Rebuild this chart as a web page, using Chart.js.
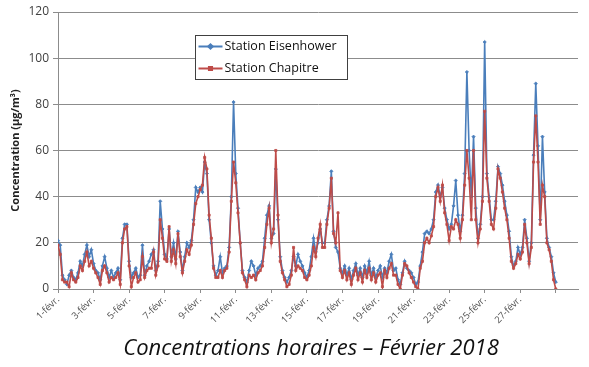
<!DOCTYPE html>
<html>
<head>
<meta charset="utf-8">
<script src="https://cdn.jsdelivr.net/npm/chart.js@4"></script>
<style>
  html, body { margin: 0; padding: 0; background: #fff; }
  #wrap { width: 589px; height: 367px; position: relative; }
</style>
</head>
<body>
<div id="wrap"><canvas id="c" width="589" height="367"></canvas></div>
<script>
// Hourly concentrations, February 2018, sampled every 3 hours (8 values per day)
const stepHours = 3;
const seriesNames = ['Station Eisenhower', 'Station Chapitre'];
const caption = 'Concentrations horaires – Février 2018';

const eisenhower = [
  21, 19, 6, 4, 2, 6, 8, 5,
  4, 7, 12, 10, 15, 19, 14, 17,
  11, 8, 7, 4, 10, 14, 9, 5,
  8, 5, 7, 9, 4, 22, 28, 28,
  12, 5, 7, 9, 5, 6, 19, 6,
  10, 12, 15, 17, 8, 12, 38, 26,
  15, 13, 26, 14, 20, 13, 25, 16,
  8, 14, 20, 18, 21, 30, 44, 42,
  44, 42, 55, 50, 30, 20, 10, 6,
  8, 14, 7, 9, 10, 18, 40, 81,
  50, 35, 20, 8, 5, 3, 8, 12,
  10, 6, 9, 10, 12, 22, 32, 36,
  22, 24, 52, 30, 14, 8, 5, 3,
  5, 8, 14, 10, 15, 12, 10, 7,
  5, 8, 14, 22, 16, 20, 26, 20,
  20, 30, 36, 51, 25, 18, 16, 9,
  7, 10, 6, 9, 4, 8, 11, 6,
  9, 5, 10, 7, 12, 6, 9, 5,
  8, 10, 5, 9, 7, 12, 15, 8,
  9, 4, 2, 7, 12, 9, 8, 7,
  5, 2, 3, 10, 16, 24, 25, 24,
  26, 30, 42, 45, 40, 44, 35, 30,
  26, 28, 36, 47, 32, 25, 32, 50,
  94, 60, 40, 66, 35, 22, 28, 40,
  107, 50, 40, 30, 30, 38, 53, 50,
  45, 38, 32, 25, 14, 10, 12, 18,
  15, 18, 30, 22, 12, 20, 58, 89,
  62, 30, 66, 42, 22, 18, 14, 7,
  3
];

const chapitre = [
  19, 15, 4, 3, 3, 1, 7, 4,
  3, 5, 10, 8, 12, 16, 10, 12,
  9, 7, 5, 2, 8, 10, 7, 3,
  5, 4, 5, 7, 2, 20, 26, 27,
  10, 1, 5, 7, 3, 4, 14, 5,
  8, 9, 9, 16, 6, 10, 30, 22,
  13, 12, 27, 12, 17, 11, 24, 14,
  7, 12, 17, 15, 19, 28, 37, 40,
  43, 45, 57, 52, 32, 22, 9, 5,
  5, 8, 5, 8, 9, 16, 38, 55,
  46, 33, 20, 7, 4, 1, 6, 5,
  6, 4, 7, 8, 10, 18, 28, 35,
  20, 26, 60, 32, 12, 7, 4, 1,
  2, 6, 18, 8, 10, 9, 8, 5,
  4, 6, 10, 18, 14, 22, 28, 18,
  18, 28, 35, 48, 24, 20, 33, 8,
  5, 8, 4, 7, 2, 6, 9, 4,
  7, 3, 8, 5, 9, 4, 7, 3,
  6, 7, 1, 8, 5, 9, 11, 6,
  6, 2, 0, 6, 11, 10, 7, 5,
  3, 1, 0, 9, 12, 20, 22, 20,
  23, 27, 40, 44, 38, 45, 33, 28,
  21, 27, 26, 30, 28, 22, 30, 45,
  60, 48, 30, 60, 30, 20, 26, 38,
  77, 48, 38, 28, 26, 35, 52, 48,
  42, 35, 30, 22, 12, 9, 11, 15,
  13, 16, 28, 20, 11, 18, 55, 75,
  55, 28, 45, 40, 20, 17, 12, 4,
  0
];

const tickLabels = ['1-févr.', '3-févr.', '5-févr.', '7-févr.', '9-févr.', '11-févr.', '13-févr.',
                    '15-févr.', '17-févr.', '19-févr.', '21-févr.', '23-févr.', '25-févr.', '27-févr.'];
const tickEveryHours = 48;
const yTicks = [0, 20, 40, 60, 80, 100, 120];

const tickHours = tickLabels.map((_, i) => i * tickEveryHours).concat([tickLabels.length * tickEveryHours]);
const toPoints = arr => arr.map((v, i) => ({ x: i * stepHours, y: v }));

const FONT = '"Open Sans", "DejaVu Sans", sans-serif';
const GRID = '#8c8c8c';

// Boxed legend drawn inside the plot area
const boxLegend = {
  id: 'boxLegend',
  afterDatasetsDraw(chart) {
    const ctx = chart.ctx;
    const x = 195.5, y = 35.5, w = 152, h = 44;
    ctx.save();
    ctx.fillStyle = '#fff';
    ctx.fillRect(x, y, w, h);
    ctx.strokeStyle = '#404040';
    ctx.lineWidth = 1;
    ctx.strokeRect(x, y, w, h);
    chart.data.datasets.forEach((ds, i) => {
      const cy = y + 11 + i * 22;
      ctx.strokeStyle = ds.borderColor;
      ctx.lineWidth = 2;
      ctx.beginPath();
      ctx.moveTo(x + 3, cy);
      ctx.lineTo(x + 27, cy);
      ctx.stroke();
      ctx.fillStyle = ds.backgroundColor;
      Chart.helpers.drawPoint(ctx, { pointStyle: ds.pointStyle, radius: 2.2, borderWidth: 1 }, x + 15, cy);
      ctx.fillStyle = '#111';
      ctx.font = '12.5px ' + FONT;
      ctx.textBaseline = 'middle';
      ctx.textAlign = 'left';
      ctx.fillText(ds.label, x + 29, cy);
    });
    ctx.restore();
  }
};

// Caption under the x axis labels
const bottomCaption = {
  id: 'bottomCaption',
  afterDraw(chart) {
    const ctx = chart.ctx;
    ctx.save();
    ctx.fillStyle = '#111';
    ctx.font = 'italic 22px ' + FONT;
    ctx.textAlign = 'center';
    ctx.textBaseline = 'middle';
    ctx.fillText(caption, 311, 349);
    ctx.restore();
  }
};

new Chart(document.getElementById('c'), {
  type: 'line',
  data: {
    datasets: [
      {
        label: seriesNames[0],
        data: toPoints(eisenhower),
        borderColor: '#4a7ebb',
        backgroundColor: '#4a7ebb',
        borderWidth: 1.6,
        pointStyle: 'rectRot',
        pointRadius: 1.6,
        pointBorderWidth: 0.8,
        tension: 0,
        order: 2
      },
      {
        label: seriesNames[1],
        data: toPoints(chapitre),
        borderColor: '#be4b48',
        backgroundColor: '#be4b48',
        borderWidth: 1.6,
        pointStyle: 'rect',
        pointRadius: 1.5,
        pointBorderWidth: 0.8,
        tension: 0,
        order: 1
      }
    ]
  },
  options: {
    responsive: false,
    animation: false,
    devicePixelRatio: 1,
    layout: { padding: { top: 12, right: 11, left: 9, bottom: 29 } },
    plugins: {
      legend: { display: false },
      tooltip: { enabled: false },
      title: { display: false }
    },
    scales: {
      x: {
        type: 'linear',
        min: 0,
        max: 702,
        afterBuildTicks(scale) { scale.ticks = tickHours.map(v => ({ value: v })); },
        afterFit(scale) { scale.height = 49; },
        ticks: {
          autoSkip: false,
          minRotation: 45,
          maxRotation: 45,
          padding: 1,
          color: '#505050',
          font: { family: FONT, size: 9.5 },
          callback: (v, i) => tickLabels[i] || ''
        },
        grid: { drawOnChartArea: false, drawTicks: true, tickLength: 4, color: GRID },
        border: { color: GRID }
      },
      y: {
        min: 0,
        max: 120,
        afterBuildTicks(scale) { scale.ticks = yTicks.map(v => ({ value: v })); },
        afterFit(scale) { scale.width = 49; },
        ticks: { color: '#404040', font: { family: FONT, size: 12 }, padding: 4 },
        grid: { color: GRID, tickLength: 5 },
        border: { color: GRID },
        title: {
          display: true,
          text: 'Concentration (µg/m³)',
          color: '#222',
          font: { family: FONT, size: 11, weight: 'bold' },
          padding: { top: 0, bottom: 0 }
        }
      }
    }
  },
  plugins: [boxLegend, bottomCaption]
});
</script>
</body>
</html>
